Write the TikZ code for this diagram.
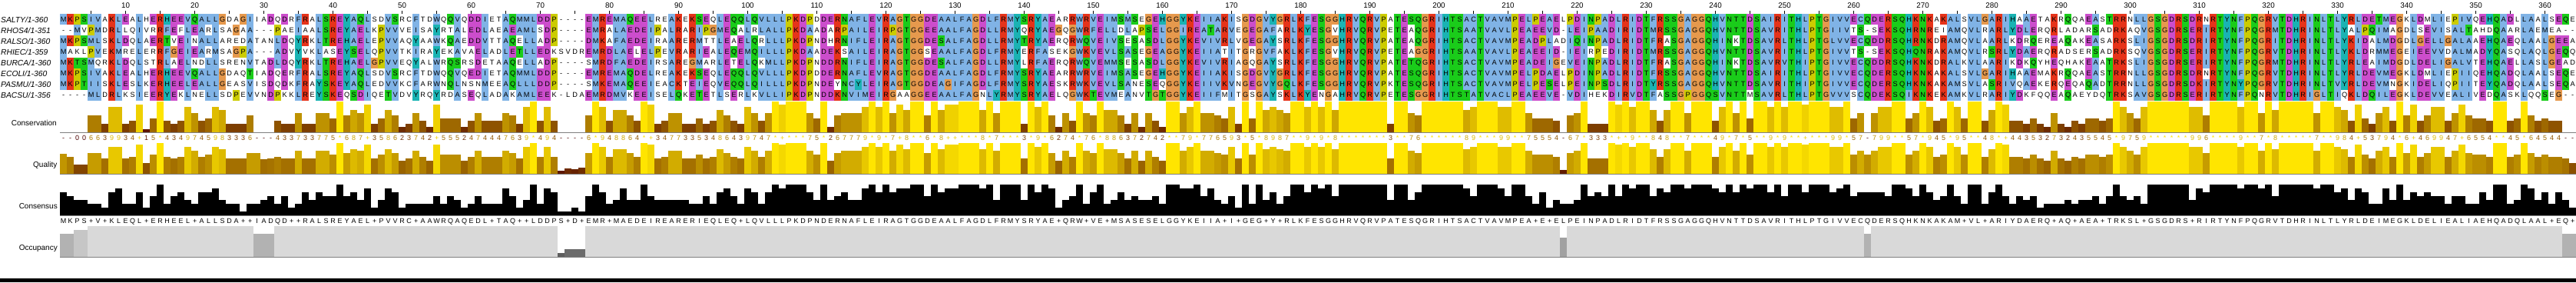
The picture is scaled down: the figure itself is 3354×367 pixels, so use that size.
\documentclass[tikz,border=0pt]{standalone}
\usepackage{fontspec}
\setmainfont{Liberation Sans}
\usetikzlibrary{positioning}

\definecolor{cxblue}{RGB}{128,179,230}
\definecolor{cxred}{RGB}{230,51,26}
\definecolor{cxgreen}{RGB}{26,204,26}
\definecolor{cxorange}{RGB}{230,153,77}
\definecolor{cxcyan}{RGB}{26,179,179}
\definecolor{cxpink}{RGB}{230,128,128}
\definecolor{cxmagenta}{RGB}{204,77,204}
\definecolor{cxyellow}{RGB}{204,204,0}
\definecolor{annline}{RGB}{128,128,128}
\definecolor{cvlo}{rgb}{0.3,0,0}
\definecolor{cvhi}{rgb}{1,0.9,0}
\colorlet{cvc0}{cvlo}
\colorlet{cvc1}{cvhi!9.09!cvlo}
\colorlet{cvc2}{cvhi!18.18!cvlo}
\colorlet{cvc3}{cvhi!27.27!cvlo}
\colorlet{cvc4}{cvhi!36.36!cvlo}
\colorlet{cvc5}{cvhi!45.45!cvlo}
\colorlet{cvc6}{cvhi!54.55!cvlo}
\colorlet{cvc7}{cvhi!63.64!cvlo}
\colorlet{cvc8}{cvhi!72.73!cvlo}
\colorlet{cvc9}{cvhi!81.82!cvlo}
\colorlet{cvc10}{cvhi!90.91!cvlo}
\colorlet{cvc11}{cvhi}
\definecolor{occ0}{gray}{1}
\definecolor{occ1}{gray}{0.37}
\definecolor{occ2}{gray}{0.42}
\definecolor{occ3}{gray}{0.49}
\definecolor{occ4}{gray}{0.56}
\definecolor{occ5}{gray}{0.63}
\definecolor{occ6}{gray}{0.70}
\definecolor{occ7}{gray}{0.775}
\definecolor{occ8}{gray}{0.85}

\makeatletter
\newcount\colcnt
\newcount\rowcnt
\newcount\bi
\def\storeseq#1#2{\colcnt=0 \def\st@row{#1}\st@loop#2\relax}
\def\st@loop#1{\ifx#1\relax\else
  \advance\colcnt by 1
  \expandafter\def\csname s@\st@row @\the\colcnt\endcsname{#1}%
  \expandafter\st@loop\fi}
\def\allres{ACDEFGHIKLMNPQRSTVWY-}
\def\resletters{ACDEFGHIKLMNPQRSTVWY}
\def\resn#1{\csname n@#1\endcsname}
\def\rz@loop#1{\ifx#1\relax\else\expandafter\def\csname n@#1\endcsname{0}\expandafter\rz@loop\fi}
\def\inc@res#1{\expandafter\edef\csname n@#1\endcsname{\the\numexpr\csname n@#1\endcsname+1\relax}}
\def\mx@loop#1{\ifx#1\relax\else
  \ifnum\resn#1>\cMax\relax\edef\cMax{\resn#1}\def\cRes{#1}%
  \else\ifnum\resn#1=\cMax\relax\def\cRes{+}\fi\fi
  \expandafter\mx@loop\fi}
\def\colstats#1{%
  \expandafter\rz@loop\allres\relax
  \rowcnt=0
  \loop\advance\rowcnt by 1
    \edef\cs@ch{\csname s@\the\rowcnt @#1\endcsname}%
    \expandafter\inc@res\expandafter{\cs@ch}%
  \ifnum\rowcnt<8 \repeat
  \edef\gHyd{\the\numexpr\resn W+\resn L+\resn V+\resn I+\resn M+\resn A+\resn F+\resn C+\resn Y+\resn H+\resn P\relax}%
  \edef\gKR{\the\numexpr\resn K+\resn R\relax}%
  \edef\gQE{\the\numexpr\resn Q+\resn E\relax}%
  \edef\gED{\the\numexpr\resn E+\resn D\relax}%
  \edef\gTS{\the\numexpr\resn T+\resn S\relax}%
  \def\cMax{0}\def\cRes{+}%
  \expandafter\mx@loop\resletters\relax
  \edef\cOcc{\the\numexpr8-\resn-\relax}}
\def\setcc#1{\def\cc{#1}}
\def\pickcol#1{\def\cc{}%
  \in@{#1}{AILMFWV}\ifin@\ifnum\gHyd>4 \setcc{cxblue}\fi\fi
  \in@{#1}{C}\ifin@\ifnum\gHyd>4 \setcc{cxblue}\fi\ifnum\resn C>6 \setcc{cxpink}\fi\fi
  \in@{#1}{KR}\ifin@\ifnum\gKR>4 \setcc{cxred}\fi\ifnum\resn Q>6 \setcc{cxred}\fi\fi
  \in@{#1}{E}\ifin@\ifnum\gKR>4 \setcc{cxmagenta}\fi\ifnum\gQE>4 \setcc{cxmagenta}\fi
    \ifnum\gED>4 \setcc{cxmagenta}\fi\fi
  \in@{#1}{D}\ifin@\ifnum\gKR>4 \setcc{cxmagenta}\fi\ifnum\gED>4 \setcc{cxmagenta}\fi
    \ifnum\resn K>6 \setcc{cxmagenta}\fi\ifnum\resn R>6 \setcc{cxmagenta}\fi
    \ifnum\resn Q>6 \setcc{cxmagenta}\fi\fi
  \in@{#1}{N}\ifin@\ifnum\resn N>4 \setcc{cxgreen}\fi\ifnum\resn Y>6 \setcc{cxgreen}\fi\fi
  \in@{#1}{Q}\ifin@\ifnum\gKR>4 \setcc{cxgreen}\fi\ifnum\gQE>4 \setcc{cxgreen}\fi
    \ifnum\cMax>6 \expandafter\in@\expandafter{\cRes}{QEKR}\ifin@\setcc{cxgreen}\fi\fi\fi
  \in@{#1}{ST}\ifin@\ifnum\gHyd>4 \setcc{cxgreen}\fi\ifnum\gTS>4 \setcc{cxgreen}\fi
    \ifnum\cMax>6 \expandafter\in@\expandafter{\cRes}{ST}\ifin@\setcc{cxgreen}\fi\fi\fi
  \in@{#1}{G}\ifin@\setcc{cxorange}\fi
  \in@{#1}{P}\ifin@\setcc{cxyellow}\fi
  \in@{#1}{HY}\ifin@\ifnum\gHyd>4 \setcc{cxcyan}\fi
    \ifnum\cMax>6 \expandafter\in@\expandafter{\cRes}{WYACPQFHILMV}\ifin@\setcc{cxcyan}\fi\fi\fi}
\def\consval#1{\if#1*11\else\if#1+10\else\if#1-0\else#1\fi\fi\fi}
% quality (percent) where the column has gaps
\def\qset#1#2{\expandafter\def\csname qo@#1\endcsname{#2}}
\qset{1}{65}\qset{2}{55}\qset{29}{68}\qset{30}{48}\qset{31}{50}
\qset{73}{10}\qset{74}{18}\qset{75}{15}\qset{76}{20}
\qset{218}{12}\qset{262}{62}\qset{363}{50}\qset{364}{35}
% one 9pt box per column
\def\seqboxes#1{\bi=0 \loop\advance\bi by 1
  \hbox to 9pt{\edef\kk{\csname k@#1@\the\bi\endcsname}%
    \ifx\kk\empty\else{\color{\kk}\vrule width 9pt height 10.3pt depth 3.75pt}\hskip-9pt\fi
    \hss\csname s@#1@\the\bi\endcsname\hss}%
  \ifnum\bi<364 \repeat}
\def\cvbarboxes{\bi=0 \loop\advance\bi by 1
  \edef\cvch{\csname s@cv@\the\bi\endcsname}\edef\cvv{\consval\cvch}%
  \hbox to 9pt{\color{cvc\cvv}\vrule width 9pt height \dimexpr40pt*\cvv/11\relax depth 0pt\hss}%
  \ifnum\bi<364 \repeat}
\def\cvcharboxes{\bi=0 \loop\advance\bi by 1
  \edef\cvch{\csname s@cv@\the\bi\endcsname}\edef\cvv{\consval\cvch}%
  \hbox to 9pt{\hss\color{cvc\cvv}\cvch\hss}%
  \ifnum\bi<364 \repeat}
\def\qualboxes{\bi=0 \loop\advance\bi by 1
  \edef\cvch{\csname s@cv@\the\bi\endcsname}\edef\cvv{\consval\cvch}%
  \ifcsname qo@\the\bi\endcsname\edef\qp{\csname qo@\the\bi\endcsname}%
  \else\edef\qp{\the\numexpr30+70*\cvv/11\relax}\fi
  \hbox to 9pt{\color{cvhi!\qp!cvlo}\vrule width 9pt height \dimexpr40pt*\qp/100\relax depth 0pt\hss}%
  \ifnum\bi<364 \repeat}
\def\consbarboxes{\bi=0 \loop\advance\bi by 1
  \hbox to 9pt{\vrule width 9pt height \dimexpr5pt*\csname cm@\the\bi\endcsname\relax depth 0pt\hss}%
  \ifnum\bi<364 \repeat}
\def\conscharboxes{\bi=0 \loop\advance\bi by 1
  \hbox to 9pt{\hss\csname cr@\the\bi\endcsname\hss}%
  \ifnum\bi<364 \repeat}
\def\occboxes{\bi=0 \loop\advance\bi by 1
  \edef\oc{\csname co@\the\bi\endcsname}%
  \hbox to 9pt{\color{occ\oc}\vrule width 9pt height \dimexpr5pt*\oc\relax depth 0pt\hss}%
  \ifnum\bi<364 \repeat}
\makeatother

\storeseq{1}{MKPSIVAKLEALHERHEEVQALLGDAGIIADQDRFRALSREYAQLSDVSRCFTDWQQVQDDIETAQMMLDDP----EMREMAQEELREAKEKSEQLEQQLQVLLLPKDPDDERNAFLEVRAGTGGDEAALFAGDLFRMYSRYAEARRWRVEIMSMSEGEHGGYKEIIAKISGDGVYGRLKFESGGHRVQRVPATESQGRIHTSACTVAVMPELPEAELPDINPADLRIDTFRSSGAGGQHVNTTDSAIRITHLPTGIVVECQDERSQHKNKAKALSVLGARIHAAETAKRQQAEASTRRNLLGSGDRSDRNRTYNFPQGRVTDHRINLTLYRLDETMEGKLDMLIEPIVQEHQADLLAALSEQE}
\storeseq{2}{--MVPMDRLLQIVRRFEFLEARLSAGAA---PAEIAALSREYAELKPVVVEISAYRTALEDLAEAEAMLSDP----EMRALAEDEIPALRARIPGMEQALRLALLPKDAADARPAILEIRPGTGGEEAALFAGDLLRMYQRYAEGQGWRFELLDLAPSELGGIREATARVEGEGAFARLKYESGVHRVQRVPETEAQGRIHTSAATVAVLPEAEEVD-LEIPAADIRIDTMRSSGAGGQHVNTTDSAVRITHLPTGIIVTS-SEKSQHRNREIAMQVLRARLYDLERQRLADARSADRKAQVGSGDRSERIRTYNFPQGRMTDHRINLTLYALPQIMAGDLSEVISALTAHDQAARLAEMEA--}
\storeseq{3}{MKPSMLSKLDQLAERTVEINALLAREDATANLDQYRKLTREHAELEPVVAQYAAWKQAEDDVTTAQELLADP----DMKAFAEDEIRAARERMTTLEAELQRLLLPKDPNDHRNIFLEIRAGTGGDESALFAGDLLRMYTRYAERQRWQVEIVSESASDLGGYKEVIVRLVGEGAYSRLKFESGGHRVQRVPATEAQGRIHTSACTVAVMPEADPLADIQINPADLRIDTFRASGAGGQHINKTDSAVRLTHLPTGLVVECQDDRSQHRNKDRAMQVLAARLKDRQEREAQAKEASARKSLIGSGDRSDRIRTYNFPQGRITDHRINLTLYKIDALMDGDLGELLGALAAEHQAEQLAALGEEA}
\storeseq{4}{MAKLPVEKMRELERRFGEIEARMSAGPA---ADVYVKLASEYSELQPVVTKIRAYEKAVAELADLETLLEDKSVDREMRDLAELELPEVRARIEALEQEMQILLLPKDAADEKSAILEIRAGTGGSEAALFAGDLFRMYERFASEKGWKVEVLSASEGEAGGYKEIIATITGRGVFAKLKFESGVHRVQRVPETEAGGRIHTSAATVAVLPEAEEID-IEIRPEDIRIDTMRSSGAGGQHVNTTDSAVRITHLPTGIVVTS-SEKSQHQNRAKAMQVLRSRLYDAERQRADSERSADRKSQVGSGDRSERIRTYNFPQGRVTDHRINLTLYKLDRMMEGEIEEVVDALMADYQASQLAQLGEQQ}
\storeseq{5}{MKTSMQRKLDQLSTRLAELNDLLSRENVTADLDQYRKLTREHAELGPVVEQYALWRQSRSDETAAQELLADP----SMRDFAEDEIRSAREGMARLETELQKMLLPKDPNDDRNIFLEIRAGTGGDESALFAGDLLRMYLRFAERQRWQVEMMSESASDLGGYKEVIVRIAGQGAYSRLKFESGGHRVQRVPATETQGRIHTSACTVAVMPEADEIGEVEINPADLRIDTFRASGAGGQHINKTDSAVRVTHIPTGIVVECQDDRSQHKNKDRALKVLAARIKDKQYHEQHAKEAATRKSLIGSGDRSERIRTYNFPQGRMTDHRINLTLYRLEAIMDGDLDELIGALVTEHQAELLASLGEAD}
\storeseq{6}{MKPSIVAKLEALHERHEEVQALLGDAQTIADQERFRALSREYAQLSDVSRCFTDWQQVQEDIETAQMMLDDP----EMREMAQDELREAKEKSEQLEQQLQVLLLPKDPDDERNAFLEVRAGTGGDEAALFAGDLFRMYSRYAEARRWRVEIMSASEGEHGGYKEIIAKISGDGVYGRLKFESGGHRVQRVPATESQGRIHTSACTVAVMPELPDAELPDINPADLRIDTFRSSGAGGQHVNTTDSAIRITHLPTGIVVECQDERSQHKNKAKALSVLGARIHAAEMAKRQQAEASTRRNLLGSGDRSDRNRTYNFPQGRVTDHRINLTLYRLDEVMEGKLDMLIEPIIQEHQADQLAALSEQE}
\storeseq{7}{MKPTIISKLESLKERHEELEALLGEASVISDQDKFRAYSKEYAQLEDVVKCFARWNQLNSNMEEAQLLLDDP----SMKEMAQEEIEACKTEIEQVEQQLQILLLPKDPNDEYNCYLEIRAGTGGDEAGIFAGDLFRMYSRYAESKRWKVEVLSANESEQGGYKEIIVKVNGEGVYGQLKFESGGHRVQRVPKTESQGRIHTSACTVAVMPELPESELPEINPSDLRIDTYRSSGAGGQHVNTTDSAVRITHIPTGIVVECQDERSQHKNKAKAMSVLASRIVQAEKERQEQAQADTRRNLLGSGDRSDKIRTYNYPQGRVTDHRINLTVYRLDEVMNGKIDELIQPIITEYQADQLAALSEQA}
\storeseq{8}{----MLDRLKSIEERYEKLNELLSDPEVVNDPKKLREYSKEQSDIQETVDVYRQYRDASEQLADAKAMLEEK-LDAEMRDMVKEEISELQKETETLSERLKVLLIPKDPNDDKNVIMEIRGAAGGEEAALFAGNLYRMYSRYAELQGWKTEVMEANVTGTGGYKEIIFMITGSGAYSKLKYENGAHRVQRVPETESGGRIHTSTATVACLPEAEEVE-VDIHEKDIRVDTFASSGPGGQSVNTTMSAVRLTHLPTGVVVSCQDEKSQIKNKEKAMKVLRARIYDKFQQEAQAEYDQTRKSAVGSGDRSERIRTYNFPQNRVTDHRIGLTIQKLDQILEGKLDEVVEALIVEDQASKLQQSEG--}
\storeseq{cv}{--006639934+15*4349745983336---433733775*687+358623742+5552474447639*494----6*948864*+34773353486439747*+***75*267779*9*7+8**6*8++***8*7***3*9*6274*76*886372742**79*776593*5*8987**9*9*8*******3**76******89***99**75554-67*333*+*9**848**7***49*7*5**9*9**+***99*57-799**57*945*95**48*+443532732435545*9759******996****9**7*8*****7**984+53794*6+469947+6554**45*64544--}

\begin{document}
\begin{tikzpicture}[x=1pt,y=-1pt,
  seqrow/.style={font=\fontsize{9.2}{10}\selectfont, anchor=west, inner sep=0pt, text height=6.6pt, text depth=0pt},
  seqname/.style={font=\fontsize{10.3}{11}\selectfont\itshape, anchor=west, inner sep=0pt, text height=7.4pt, text depth=0pt},
  annlabel/.style={font=\fontsize{10}{11}\selectfont, anchor=east, inner sep=0pt, text height=7.2pt, text depth=0pt},
  rulenum/.style={font=\fontsize{9.8}{10}\selectfont, inner sep=0pt, text height=7pt, text depth=0pt},
  annrow/.style={font=\fontsize{9}{10}\selectfont, anchor=west, inner sep=0pt, text height=6.5pt, text depth=0pt},
  barrow/.style={anchor=base west, inner sep=0pt},
  baseline/.style={draw=annline, line width=0.9pt},
]
\useasboundingbox (0,0) rectangle (3354,367);
\fill[white] (0,0) rectangle (3354,367);

\foreach \c in {1,...,364}{
  \colstats{\c}
  \expandafter\xdef\csname cr@\c\endcsname{\cRes}
  \expandafter\xdef\csname cm@\c\endcsname{\cMax}
  \expandafter\xdef\csname co@\c\endcsname{\cOcc}
  \foreach \r in {1,...,8}{
    \edef\ch{\csname s@\r @\c\endcsname}
    \expandafter\pickcol\expandafter{\ch}
    \expandafter\xdef\csname k@\r @\c\endcsname{\cc}
  }
}

\foreach \t in {5,10,...,360}
  \draw[line width=0.9pt] ({78+9*\t-4.5},14) -- ({78+9*\t-4.5},17.5);
\foreach \t in {10,20,...,360}
  \node[rulenum] (ruler\t) at ({78+9*\t-4.5},7) {\t};

\foreach \nm [count=\r] in {SALTY/1-360,RHOS4/1-351,RALSO/1-360,RHIEC/1-359,BURCA/1-360,ECOLI/1-360,PASMU/1-360,BACSU/1-356}{
  \node[seqname] (seq\r) at (1,{25.3+14.05*(\r-1)}) {\nm};
  \node[seqrow] (row\r) at (78,{25.3+14.05*(\r-1)}) {\seqboxes{\r}};
}

\node[annlabel] (conservation) at (74,160) {Conservation};
\node[annlabel] (quality) at (74.5,214) {Quality};
\node[annlabel] (consensus) at (75,267.7) {Consensus};
\node[annlabel] (occupancy) at (75,322) {Occupancy};

\node[barrow] (consbars) at (78,172) {\cvbarboxes};
\node[annrow] (consnums) at (78,179.3) {\cvcharboxes};
\node[barrow] (qualbars) at (78,226) {\qualboxes};
\node[barrow] (consensusbars) at (78,280) {\consbarboxes};
\node[annrow] (consensusres) at (78,287.7) {\conscharboxes};
\node[barrow] (occbars) at (78,334) {\occboxes};

\foreach \yb in {172,226,280,334}
  \draw[baseline] (78,\yb) -- (3354,\yb);
\fill[black] (0,361.7) rectangle (3354,367);
\end{tikzpicture}
\end{document}
